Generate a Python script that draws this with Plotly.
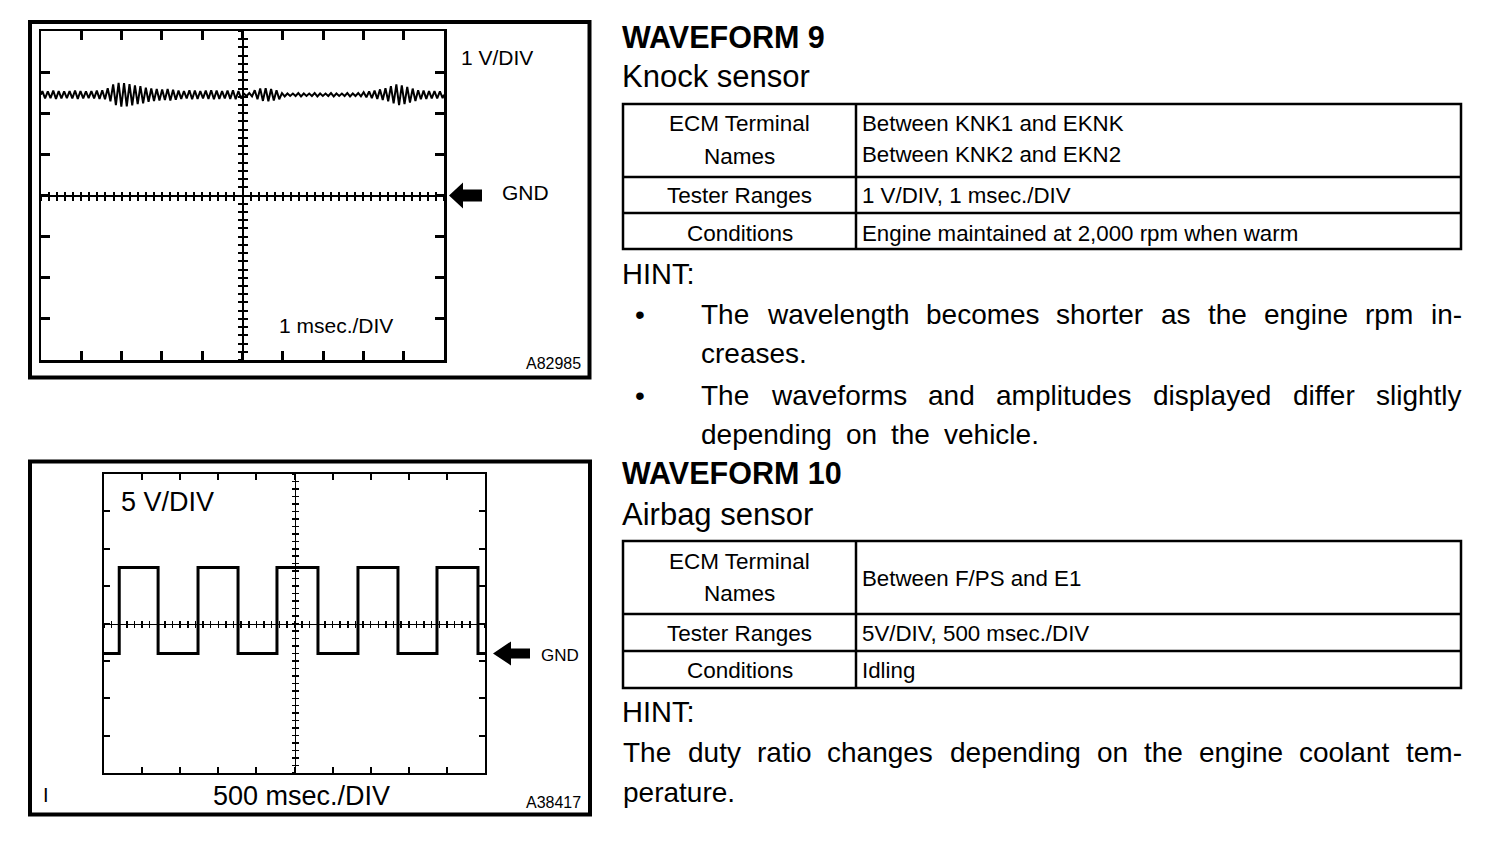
import plotly.graph_objects as go
import numpy as np

W, H = 1504, 844
FONT = "Liberation Sans, Arial, sans-serif"
NARROW = "Liberation Sans Narrow, Arial Narrow, Liberation Sans, sans-serif"

# ---------------- data: WAVEFORM 9 (knock sensor) ----------------
knock_span_ms = 10.0          # 10 div x 1 msec./DIV
knock_baseline_v = 2.45
# peak / trough voltage of each oscillation cycle, read left to right
knock_hi_v = [2.54, 2.53, 2.55, 2.54, 2.53, 2.54, 2.55, 2.54, 2.53, 2.54, 2.55, 2.56,
              2.61, 2.70, 2.74, 2.73, 2.71, 2.68, 2.66, 2.62, 2.60, 2.59, 2.58, 2.59, 2.57,
              2.55, 2.54, 2.56, 2.55, 2.54, 2.55, 2.56, 2.55, 2.54, 2.55,
              2.56, 2.54, 2.48, 2.49,
              2.56, 2.60, 2.61, 2.59, 2.56,
              2.49, 2.48, 2.48, 2.49, 2.48, 2.48, 2.49, 2.48, 2.48, 2.49, 2.48, 2.48, 2.49, 2.48, 2.49, 2.51, 2.53,
              2.55, 2.58, 2.61,
              2.66, 2.70, 2.68, 2.64, 2.60,
              2.56, 2.55, 2.54, 2.54, 2.53]
knock_lo_v = [2.36, 2.37, 2.35, 2.36, 2.37, 2.36, 2.35, 2.36, 2.37, 2.36, 2.35, 2.34,
              2.29, 2.20, 2.16, 2.17, 2.19, 2.22, 2.24, 2.28, 2.30, 2.31, 2.32, 2.31, 2.33,
              2.35, 2.36, 2.34, 2.35, 2.36, 2.35, 2.34, 2.35, 2.36, 2.35,
              2.34, 2.36, 2.42, 2.41,
              2.34, 2.30, 2.29, 2.31, 2.34,
              2.41, 2.42, 2.42, 2.41, 2.42, 2.42, 2.41, 2.42, 2.42, 2.41, 2.42, 2.42, 2.41, 2.42, 2.41, 2.39, 2.37,
              2.35, 2.32, 2.29,
              2.24, 2.20, 2.22, 2.26, 2.30,
              2.34, 2.35, 2.36, 2.36, 2.37]

# ---------------- data: WAVEFORM 10 (airbag sensor) ----------------
airbag_span_ms = 5000.0       # 10 div x 500 msec./DIV
airbag_edges_ms = [0, 200, 710, 1234, 1759, 2270, 2808, 3333, 3858, 4370, 4908, 5000]
airbag_level_v = [-4.0, 7.5, -4.0, 7.5, -4.0, 7.5, -4.0, 7.5, -4.0, 7.5, -4.0, -4.0]
airbag_gnd_v = -4.0

# ---------------- text ----------------
title9 = "WAVEFORM 9"
sub9 = "Knock sensor"
table9 = [
    (["ECM Terminal", "Names"], ["Between KNK1 and EKNK", "Between KNK2 and EKN2"]),
    (["Tester Ranges"], ["1 V/DIV, 1 msec./DIV"]),
    (["Conditions"], ["Engine maintained at 2,000 rpm when warm"]),
]
hint9 = [["The wavelength becomes shorter as the engine rpm in-", "creases."],
         ["The waveforms and amplitudes displayed differ slightly", "depending on the vehicle."]]
title10 = "WAVEFORM 10"
sub10 = "Airbag sensor"
table10 = [
    (["ECM Terminal", "Names"], ["Between F/PS and E1"]),
    (["Tester Ranges"], ["5V/DIV, 500 msec./DIV"]),
    (["Conditions"], ["Idling"]),
]
hint10 = ["The duty ratio changes depending on the engine coolant tem-", "perature."]

# ---------------- helpers ----------------
def px(x):
    return x / W


def py(y):
    return 1 - y / H


fig = go.Figure()

# knock trace
n = len(knock_hi_v)
per = knock_span_ms / n
kt = [0.0]
kv = [knock_baseline_v]
for i in range(n):
    kt += [(i + 0.25) * per, (i + 0.75) * per]
    kv += [knock_hi_v[i], knock_lo_v[i]]
kt.append(knock_span_ms)
kv.append(knock_baseline_v)
fig.add_trace(go.Scatter(x=kt, y=kv, mode="lines", line=dict(color="black", width=2),
                         xaxis="x", yaxis="y", showlegend=False, hoverinfo="skip"))

# airbag square wave
fig.add_trace(go.Scatter(x=airbag_edges_ms, y=airbag_level_v, mode="lines", line_shape="hv",
                         line=dict(color="black", width=3), xaxis="x2", yaxis="y2",
                         showlegend=False, hoverinfo="skip"))

# dummy traces for graticule crosshair axes
for xa, ya in [("x3", "y3"), ("x4", "y4"), ("x5", "y5"), ("x6", "y6")]:
    fig.add_trace(go.Scatter(x=[None], y=[None], xaxis=xa, yaxis=ya, showlegend=False,
                             hoverinfo="skip"))

# domains
top_x = [px(41), px(444)]
top_y = [py(360), py(31)]
bot_x = [px(104), px(485)]
bot_y = [py(773), py(474)]


def frame_axis(domain, rng, dtick, tick0, anchor, lw, tl, tw):
    return dict(domain=domain, range=rng, anchor=anchor, showline=True, mirror="ticks",
                linewidth=lw, linecolor="black", ticks="inside", ticklen=tl, tickwidth=tw,
                tickcolor="black", dtick=dtick, tick0=tick0, showticklabels=False,
                showgrid=False, zeroline=False, fixedrange=True)


def cross_axis(domain, rng, dtick, tick0, over, pos, ticks, lw, tl, tw, show_line):
    return dict(domain=domain, range=rng, overlaying=over, anchor="free", position=pos,
                showline=show_line, linewidth=lw, linecolor="black", ticks=ticks, ticklen=tl,
                tickwidth=tw, tickcolor="black", dtick=dtick, tick0=tick0,
                showticklabels=False, showgrid=False, zeroline=False, fixedrange=True)


tyc = sum(top_y) / 2
txc = sum(top_x) / 2
byc = sum(bot_y) / 2
bxc = sum(bot_x) / 2

fig.update_layout(
    width=W, height=H, margin=dict(l=0, r=0, t=0, b=0), autosize=False,
    paper_bgcolor="white", plot_bgcolor="rgba(0,0,0,0)",
    xaxis=frame_axis(top_x, [0, knock_span_ms], 1, 0, "y", 2.5, 9, 3),
    yaxis=frame_axis(top_y, [-4, 4], 1, -4, "x", 2.5, 9, 3),
    xaxis2=frame_axis(bot_x, [0, airbag_span_ms], 500, 0, "y2", 2, 6, 2),
    yaxis2=frame_axis(bot_y, [-20, 20], 5, -20, "x2", 2, 6, 2),
    xaxis3=cross_axis(top_x, [0, knock_span_ms], 0.2, 0, "x", tyc, "outside", 2, 4, 2, True),
    xaxis4=cross_axis(top_x, [0, knock_span_ms], 0.2, 0, "x", tyc, "inside", 2, 4, 2, False),
    yaxis3=cross_axis(top_y, [-4, 4], 0.2, -4, "y", txc, "outside", 2, 4, 2, True),
    yaxis4=cross_axis(top_y, [-4, 4], 0.2, -4, "y", txc, "inside", 2, 4, 2, False),
    xaxis5=cross_axis(bot_x, [0, airbag_span_ms], 100, 0, "x2", byc, "outside", 1, 3, 1.5, True),
    xaxis6=cross_axis(bot_x, [0, airbag_span_ms], 100, 0, "x2", byc, "inside", 1, 3, 1.5, False),
    yaxis5=cross_axis(bot_y, [-20, 20], 1, -20, "y2", bxc, "outside", 1, 3, 1.5, True),
    yaxis6=cross_axis(bot_y, [-20, 20], 1, -20, "y2", bxc, "inside", 1, 3, 1.5, False),
)

shapes = []
# outer frames of the two scope pictures
shapes.append(dict(type="rect", xref="paper", yref="paper", x0=px(30), x1=px(589.5),
                   y0=py(22), y1=py(377.5), line=dict(color="black", width=4)))
shapes.append(dict(type="rect", xref="paper", yref="paper", x0=px(30), x1=px(590),
                   y0=py(461.5), y1=py(814.5), line=dict(color="black", width=4)))
# GND arrows
shapes.append(dict(type="path", xref="paper", yref="y", xsizemode="pixel", ysizemode="pixel",
                   xanchor=px(449), yanchor=0,
                   path="M0,0 L14,13 L14,6 L33,6 L33,-6 L14,-6 L14,-13 Z",
                   fillcolor="black", line=dict(width=0)))
shapes.append(dict(type="path", xref="paper", yref="y2", xsizemode="pixel", ysizemode="pixel",
                   xanchor=px(493), yanchor=airbag_gnd_v,
                   path="M0,0 L18,12 L18,5 L37,5 L37,-5 L18,-5 L18,-12 Z",
                   fillcolor="black", line=dict(width=0)))


def table_shapes(ys):
    out = [dict(type="rect", xref="paper", yref="paper", x0=px(623), x1=px(1461),
                y0=py(ys[0]), y1=py(ys[-1]), line=dict(color="black", width=2.5))]
    for yy in ys[1:-1]:
        out.append(dict(type="line", xref="paper", yref="paper", x0=px(623), x1=px(1461),
                        y0=py(yy), y1=py(yy), line=dict(color="black", width=2.5)))
    out.append(dict(type="line", xref="paper", yref="paper", x0=px(856), x1=px(856),
                    y0=py(ys[0]), y1=py(ys[-1]), line=dict(color="black", width=2.5)))
    return out


t9_lines = [104, 177, 213, 249]
t10_lines = [541, 614, 651, 688]
shapes += table_shapes(t9_lines)
shapes += table_shapes(t10_lines)
fig.update_layout(shapes=shapes)


def txt(x, y, s, size, anchor="left", bold=False, family=FONT):
    fig.add_annotation(x=px(x), y=py(y), xref="paper", yref="paper",
                       text=("<b>%s</b>" % s) if bold else s, showarrow=False,
                       xanchor=anchor, yanchor="middle",
                       font=dict(family=family, size=size, color="black"),
                       borderpad=0, borderwidth=0)


# scope labels
txt(461, 57, "1 V/DIV", 21)
txt(502, 192, "GND", 21)
txt(279, 326, "1 msec./DIV", 21)
txt(526, 363, "A82985", 16)
txt(121, 502, "5 V/DIV", 27)
txt(213, 796, "500 msec./DIV", 27)
txt(541, 655, "GND", 17, family=NARROW)
txt(526, 802, "A38417", 16)
txt(43, 795, "I", 20)

# Arial / Liberation Sans advance widths (1/1000 em)
AW = {" ": 278, "a": 556, "b": 556, "c": 500, "d": 556, "e": 556, "f": 278, "g": 556,
      "h": 556, "i": 222, "j": 222, "k": 500, "l": 222, "m": 833, "n": 556, "o": 556,
      "p": 556, "q": 556, "r": 333, "s": 500, "t": 278, "u": 556, "v": 500, "w": 722,
      "x": 500, "y": 500, "z": 500, "T": 611, "-": 333, ".": 278, ",": 278}


def tw(s, size):
    return sum(AW.get(c, 556) for c in s) * size / 1000.0


def line_words(s, x0, x1, y, size, justify=True, gap=None):
    words = s.split()
    widths = [tw(w, size) for w in words]
    if justify and len(words) > 1:
        gap = (x1 - x0 - sum(widths)) / (len(words) - 1)
    elif gap is None:
        gap = tw(" ", size)
    x = x0
    for w, wd in zip(words, widths):
        txt(x, y, w, size)
        x += wd + gap
    return gap


BODY = 28
LAST_GAP = 14


def section(title, sub, table, ytitle, ysub, yrows):
    txt(622, ytitle, title, 30.5, bold=True)
    txt(622, ysub, sub, 31)
    for (left, right), ys in zip(table, yrows):
        lys, rys = ys
        for s, yy in zip(left, lys):
            txt(739.5, yy, s, 22.5, anchor="center")
        for s, yy in zip(right, rys):
            txt(862, yy, s, 22.3)


section(title9, sub9, table9, 37, 76,
        [([123, 156], [124, 155]), ([195], [195]), ([233], [233])])
section(title10, sub10, table10, 473, 514,
        [([561, 593], [578]), ([633], [633]), ([670], [670])])

txt(622, 274, "HINT:", 29)
bullet_y = [(315, 354), (395, 434)]
for (l1, l2), (y1, y2) in zip(hint9, bullet_y):
    txt(640, y1, "•", 28, anchor="center")
    line_words(l1, 701, 1462, y1, BODY, justify=True)
    line_words(l2, 701, 1462, y2, BODY, justify=False, gap=LAST_GAP)

txt(622, 712, "HINT:", 29)
line_words(hint10[0], 623, 1462, 752, BODY, justify=True)
line_words(hint10[1], 623, 1462, 792, BODY, justify=False, gap=LAST_GAP)

fig.write_html("out.html", config={"displayModeBar": False, "staticPlot": True},
               post_script="document.body.style.margin='0';document.body.style.overflow='hidden';")
